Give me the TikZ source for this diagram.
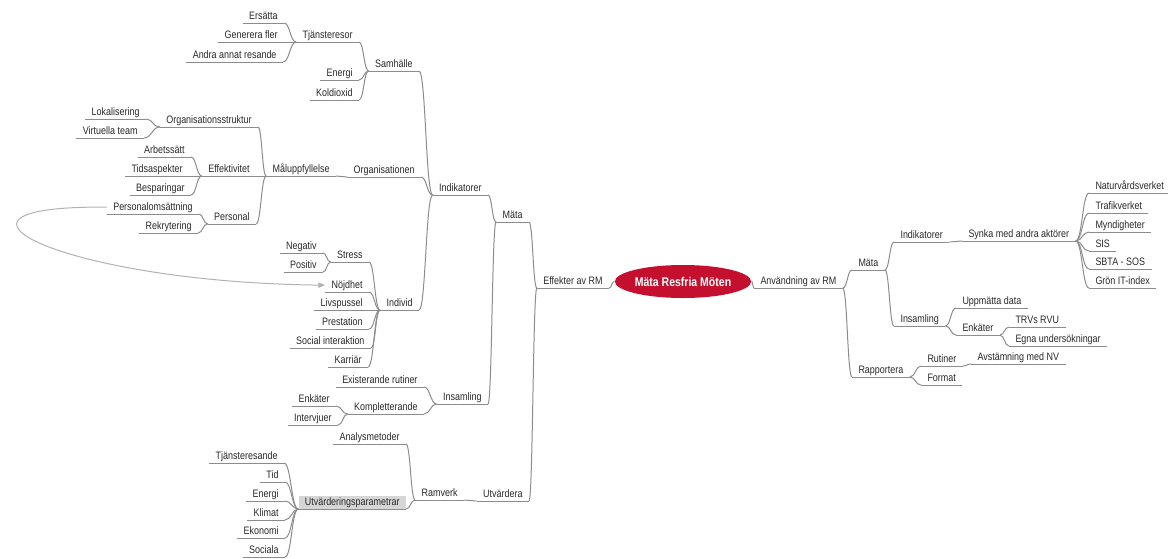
\documentclass[tikz,border=0pt]{standalone}
\usepackage{fontspec}
\setmainfont{Liberation Sans}[FakeStretch=0.83]
\usetikzlibrary{calc,shapes.geometric,arrows.meta}

\definecolor{linegray}{RGB}{140,140,140}
\definecolor{textgray}{RGB}{40,40,40}
\definecolor{mapred}{RGB}{196,16,46}
\definecolor{markgray}{RGB}{214,214,214}
\definecolor{relgray}{RGB}{178,178,178}

\tikzset{every picture/.style={line width=0.75pt}}
\tikzset{
	topic/.style={inner xsep=4.5pt, inner ysep=1.25pt, text height=6pt, text depth=1pt,
		font=\fontsize{8.1}{9}\selectfont, text=textgray,
		append after command={(\tikzlastnode.south west) edge[draw=linegray] (\tikzlastnode.south east)}},
	ltopic/.style={topic, anchor=south east},
	rtopic/.style={topic, anchor=south west},
	branch/.style={draw=linegray, to path={let \p1=(\tikztostart), \p2=(\tikztotarget) in
		.. controls ({(\x1+\x2)/2},\y1) and ({(\x1+\x2)/2},\y2) .. (\tikztotarget)}},
	relation/.style={draw=relgray, -{Triangle[length=5pt,width=4pt]}},
}

\begin{document}
\begin{tikzpicture}[x=0.75pt,y=-0.75pt]
	\useasboundingbox (0,0) rectangle (1168,558);
	
	%Centre
	\node [ellipse, fill=mapred, minimum width=90pt, minimum height=24.75pt, inner sep=0pt, text=white,
		font=\fontsize{9.5}{11}\selectfont\bfseries] (mind) at (683,281.5) {Mäta Resfria Möten};
	
	%Left: Effekter av RM
	\node [ltopic] (eff) at (609,288) {Effekter av RM};
	\node [ltopic] (mata) at (529,222) {Mäta};
	\node [ltopic] (ind) at (488,195) {Indikatorer};
	\node [ltopic] (sam) at (419,71) {Samhälle};
	\node [ltopic] (tja) at (359,42) {Tjänsteresor};
	\node [ltopic] (ers) at (284,23) {Ersätta};
	\node [ltopic] (gen) at (284,42) {Generera fler};
	\node [ltopic] (andr) at (283,62) {Andra annat resande};
	\node [ltopic] (ene) at (359,80) {Energi};
	\node [ltopic] (kol) at (359,100) {Koldioxid};
	\node [ltopic] (org) at (421,177) {Organisationen};
	\node [ltopic] (mal) at (336,176) {Måluppfyllelse};
	\node [ltopic] (ost) at (258,127) {Organisationsstruktur};
	\node [ltopic] (lok) at (146,119) {Lokalisering};
	\node [ltopic] (vir) at (144,138) {Virtuella team};
	\node [ltopic] (efk) at (256,176) {Effektivitet};
	\node [ltopic] (arb) at (191,157) {Arbetssätt};
	\node [ltopic] (tid) at (189,176) {Tidsaspekter};
	\node [ltopic] (bes) at (191,195) {Besparingar};
	\node [ltopic] (per) at (256,224) {Personal};
	\node [ltopic] (pom) at (199,214) {Personalomsättning};
	\node [ltopic] (rek) at (198,233) {Rekrytering};
	\node [ltopic] (indv) at (419,310) {Individ};
	\node [ltopic] (str) at (369,262) {Stress};
	\node [ltopic] (neg) at (323,253) {Negativ};
	\node [ltopic] (pos) at (323,272) {Positiv};
	\node [ltopic] (noj) at (369,292) {Nöjdhet};
	\node [ltopic] (liv) at (369,310) {Livspussel};
	\node [ltopic] (pre) at (369,329) {Prestation};
	\node [ltopic] (soc) at (371,348) {Social interaktion};
	\node [ltopic] (kar) at (368,367) {Karriär};
	\node [ltopic] (ins) at (488,404) {Insamling};
	\node [ltopic] (exi) at (424,387) {Existerande rutiner};
	\node [ltopic] (kom) at (424,414) {Kompletterande};
	\node [ltopic] (enk) at (336,406) {Enkäter};
	\node [ltopic] (inv) at (338,425) {Intervjuer};
	\node [ltopic] (utv) at (529,501) {Utvärdera};
	\node [ltopic] (ram) at (464,500) {Ramverk};
	\node [ltopic] (ana) at (406,444) {Analysmetoder};
	\node [ltopic, fill=markgray] (upa) at (406,509) {Utvärderingsparametrar};
	\node [ltopic] (tjr) at (284,463) {Tjänsteresande};
	\node [ltopic] (tidp) at (285,482) {Tid};
	\node [ltopic] (enp) at (285,501) {Energi};
	\node [ltopic] (kli) at (285,520) {Klimat};
	\node [ltopic] (eko) at (285,538) {Ekonomi};
	\node [ltopic] (sci) at (285,557) {Sociala};
	
	%Right: Användning av RM
	\node [rtopic] (anv) at (754,288) {Användning av RM};
	\node [rtopic] (rmata) at (852,270) {Mäta};
	\node [rtopic] (rind) at (894,242) {Indikatorer};
	\node [rtopic] (syn) at (962,241) {Synka med andra aktörer};
	\node [rtopic] (nat) at (1089,193) {Naturvårdsverket};
	\node [rtopic] (tra) at (1089,213) {Trafikverket};
	\node [rtopic] (myn) at (1089,232) {Myndigheter};
	\node [rtopic] (sis) at (1089,251) {SIS};
	\node [rtopic] (sbt) at (1089,269) {SBTA - SOS};
	\node [rtopic] (gro) at (1089,288) {Grön IT-index};
	\node [rtopic] (rins) at (894,326) {Insamling};
	\node [rtopic] (upp) at (956,308) {Uppmätta data};
	\node [rtopic] (renk) at (956,335) {Enkäter};
	\node [rtopic] (trv) at (1009,327) {TRVs RVU};
	\node [rtopic] (egn) at (1009,346) {Egna undersökningar};
	\node [rtopic] (rap) at (852,377) {Rapportera};
	\node [rtopic] (rut) at (921,366) {Rutiner};
	\node [rtopic] (avs) at (971,364) {Avstämning med NV};
	\node [rtopic] (fmt) at (921,385) {Format};
	
	%Branches
	\draw [branch] (mind.west) to (eff.south east);
	\draw [branch] (mind.east) to (anv.south west);
	\foreach \a/\b in {eff/mata, eff/utv, mata/ind, mata/ins, ind/sam, ind/org, ind/indv,
		sam/tja, sam/ene, sam/kol, tja/ers, tja/gen, tja/andr, org/mal, mal/ost, mal/efk, mal/per,
		ost/lok, ost/vir, efk/arb, efk/tid, efk/bes, per/pom, per/rek,
		indv/str, indv/noj, indv/liv, indv/pre, indv/soc, indv/kar, str/neg, str/pos,
		ins/exi, ins/kom, kom/enk, kom/inv, utv/ram, ram/ana, ram/upa,
		upa/tjr, upa/tidp, upa/enp, upa/kli, upa/eko, upa/sci}
		\draw [branch] (\a.south west) to (\b.south east);
	\foreach \a/\b in {anv/rmata, anv/rap, rmata/rind, rmata/rins, rind/syn,
		syn/nat, syn/tra, syn/myn, syn/sis, syn/sbt, syn/gro,
		rins/upp, rins/renk, renk/trv, renk/egn, rap/rut, rap/fmt, rut/avs}
		\draw [branch] (\a.south east) to (\b.south west);
	
	%Relation
	\draw [relation] (pom.west) .. controls (-90,205) and (60,282) .. (noj.west);
	
\end{tikzpicture}
\end{document}
